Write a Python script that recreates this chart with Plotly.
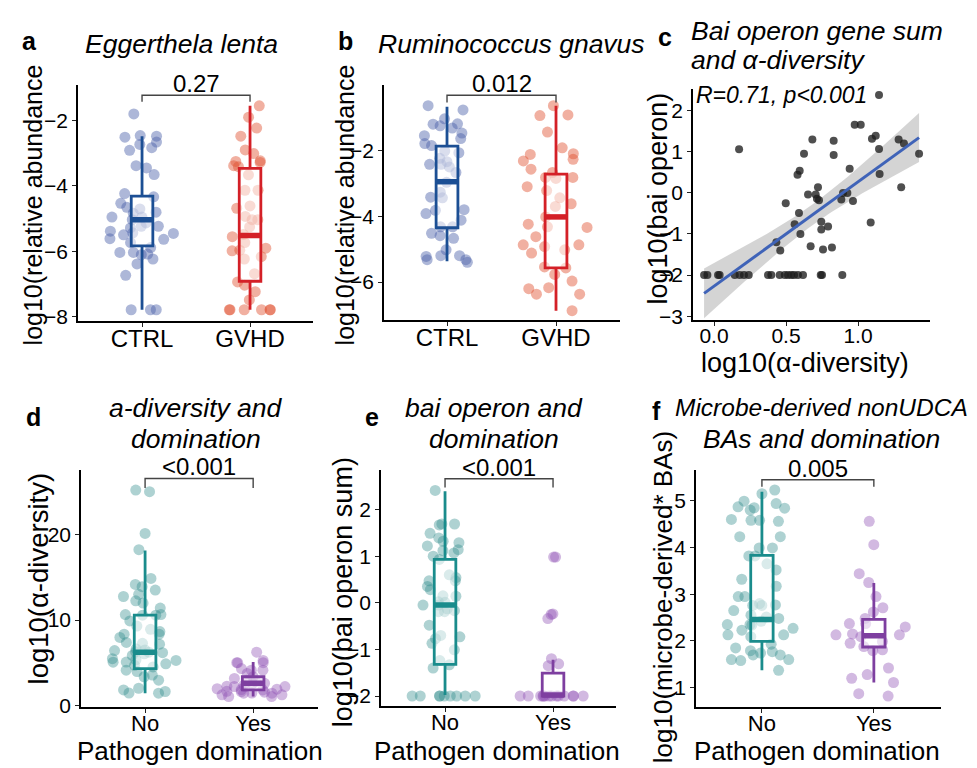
import numpy as np
import plotly.graph_objects as go

W, H = 977, 768
FONT = "Liberation Sans, Arial, sans-serif"

# ---------------- data ----------------
groups_ab = ["CTRL", "GVHD"]
groups_def = ["No", "Yes"]

a_ctrl = [-1.8, -2.73, -2.51, -2.48, -2.46, -2.66, -2.91, -2.83, -3.38, -3.45, -3.65, -4.23, -4.33,
          -4.53, -4.65, -4.7, -4.8, -4.95, -5.03, -4.95, -5.13, -5.23, -5.28, -5.23, -5.45, -5.49,
          -5.63, -5.61, -5.73, -5.43, -5.88, -6.08, -6.1, -6.03, -6.03, -6.23, -6.38, -6.73, -7.78,
          -7.78, -7.78, -5.38, -4.83]
a_gvhd = [-1.55, -1.9, -2.23, -2.48, -2.9, -3.01, -3.28, -3.23, -3.25, -3.38, -3.41, -3.66, -4.13,
          -4.13, -4.68, -4.61, -4.93, -5.03, -5.03, -5.25, -5.48, -5.55, -5.73, -5.98, -5.9, -5.96,
          -6.16, -6.23, -6.68, -6.93, -7.03, -7.23, -7.48, -7.78, -7.78, -7.78, -7.78, -7.78, -7.78]

b_ctrl = [-0.64, -0.77, -1.04, -1.32, -1.2, -1.19, -1.47, -1.64, -1.55, -1.79, -1.85, -2.02, -2.24,
          -2.07, -2.34, -2.42, -2.42, -2.67, -2.97, -3.27, -3.44, -3.42, -3.82, -3.8, -3.92, -4.32,
          -4.12, -4.32, -4.59, -4.67, -4.52, -5.2, -5.22, -5.02, -5.2, -5.32, -5.32, -5.4, -2.5, -1.25]
b_gvhd = [-0.64, -0.92, -0.94, -1.44, -1.92, -2.12, -2.1, -2.32, -2.27, -2.57, -2.67, -2.85, -2.82,
          -2.82, -3.1, -3.22, -3.44, -3.62, -3.7, -4.02, -4.24, -4.34, -4.32, -4.62, -4.87, -4.87,
          -4.92, -5.12, -5.02, -5.54, -5.57, -5.77, -5.97, -6.2, -6.17, -6.37, -6.37, -6.87]

c_alpha = [1.146, 0.977, 1.019, 0.683, 0.831, 1.097, 1.123, 1.282, 1.319, 0.174, 0.625, 0.831, 1.146,
           1.424, 0.942, 0.595, 0.58, 1.15, 1.30, 0.722, 0.653, 0.706, 0.729, 0.715, 0.896, 0.926,
           0.884, 0.965, 0.498, 0.59, 0.56, 0.745, 0.745, 0.792, 1.088, 0.6, 0.433, 0.46, 0.671,
           0.757, 0.819,
           -0.069, -0.046, 0.028, 0.039, 0.144, 0.178, 0.208, 0.241, 0.375, 0.398, 0.456, 0.491,
           0.514, 0.537, 0.556, 0.583, 0.618, 0.741, 0.75, 0.891]
c_bai = [2.38, 1.66, 1.66, 1.3, 1.27, 1.32, 1.39, 1.3, 1.2, 1.06, 0.95, 0.92, 1.07,
         0.95, 0.59, 0.54, 0.44, 0.46, 0.14, 0.14, -0.04, -0.04, -0.18, -0.14, 0.0, 0.0,
         -0.16, -0.2, -0.25, -0.49, -0.76, -0.7, -0.89, -0.82, -0.72, -1.0, -1.2, -1.4, -1.3,
         -1.38, -1.33,
         -2, -2, -2, -2, -2, -2, -2, -2, -2, -2, -2, -2, -2, -2, -2, -2, -2, -2, -2, -2]

d_no = [25.15, 24.96, 20.1, 18.2, 14.85, 14.16, 13.9, 13.5, 13.0, 12.75, 11.98, 12.25, 11.4, 10.65,
        10.57, 10.65, 10.57, 9.9, 9.31, 8.93, 8.66, 8.36, 7.98, 8.36, 7.3, 7.2, 7.4, 6.64, 6.45,
        6.53, 6.07, 5.88, 6.26, 5.38, 5.3, 5.1, 4.54, 4.16, 4.73, 4.0, 3.6, 3.4, 3.0, 1.68, 1.87,
        2.06, 1.49, 5.11, 5.5, 6.2, 6.3, 4.9, 1.5]
d_yes = [6.26, 5.3, 5.04, 5.04, 5.04, 4.16, 4.35, 4.16, 3.0, 3.2, 3.4, 3.78, 2.25, 1.95, 2.25, 2.25,
         2.3, 1.68, 1.49, 1.49, 1.6, 1.87, 1.3, 1.1, 1.1, 1.3, 2.63, 2.63, 1.9, 2.4, 2.0, 1.7, 2.8,
         1.5]

e_no = [2.41, 1.69, 1.69, 1.67, 1.49, 1.39, 1.29, 1.32, 1.22, 1.14, 1.12, 1.07, 0.93, 1.0, 0.6, 0.54,
        0.47, 0.47, 0.35, 0.28, 0.15, 0.14, 0.02, 0.01, -0.05, -0.17, -0.13, -0.19, -0.19, -0.48,
        -0.7, -0.73, -0.87, -0.77, -1.01, -1.33, -1.4, -1.24, -0.05,
        -2, -2, -2, -2, -2, -2, -2, -2, -2]
e_yes = [0.98, 0.98, -0.24, -0.34, -0.25, -1.2, -1.35, -1.31,
         -2, -2, -2, -2, -2, -2, -2, -2, -2, -2, -2, -2, -2, -2]

f_no = [5.15, 5.23, 4.99, 4.94, 4.87, 4.84, 4.85, 4.8, 4.56, 4.58, 4.58, 4.6, 4.23, 4.23, 3.99, 3.99,
        3.82, 3.82, 3.65, 3.52, 3.32, 3.17, 2.95, 2.95, 2.8, 2.77, 2.76, 2.76, 2.65, 2.55, 2.48,
        2.42, 2.51, 2.27, 2.23, 2.35, 2.35, 2.34, 2.13, 2.09, 2.13, 1.93, 1.79, 1.85, 1.74, 1.7,
        1.77, 1.7, 1.6, 1.58, 1.6, 1.37]
f_yes = [4.56, 4.06, 3.44, 3.25, 2.95, 2.71, 2.62, 2.48, 2.3, 2.37, 2.37, 2.15, 1.99, 2.13, 2.13,
         1.95, 2.09, 1.88, 1.79, 1.81, 1.42, 1.28, 1.2, 1.11, 0.82, 0.87]

# box statistics per group: q1, median, q3, lower whisker, upper whisker
a_box = [[-5.83, -5.03, -4.31, -7.78, -2.48], [-6.91, -5.51, -3.46, -7.78, -1.55]]
b_box = [[-4.35, -2.95, -1.87, -5.37, -0.67], [-5.57, -4.02, -2.72, -6.87, -0.64]]
d_box = [[4.35, 6.26, 10.57, 1.49, 18.1], [1.87, 2.63, 3.4, 1.1, 5.11]]
e_box = [[-1.32, -0.05, 0.93, -1.98, 2.39], [-2.0, -1.98, -1.51, -2.0, -1.22]]
f_box = [[1.99, 2.46, 3.83, 1.37, 5.19], [1.87, 2.11, 2.46, 1.11, 3.24]]

p_values = ["0.27", "0.012", "<0.001", "<0.001", "0.005"]
bracket_levels = [(-1.23, -1.43), (-0.32, -0.54), (26.5, 25.4), (2.66, 2.47), (5.45, 5.30)]
corr_label = "R=0.71, p<0.001"

# ---------------- styles ----------------
BLUE, RED = "#1C4F94", "#D42027"
TEAL, PURPLE = "#1A8C8C", "#7E3FA0"
PT_BLUE, PT_RED = "rgba(74,95,168,0.45)", "rgba(224,80,46,0.45)"
PT_TEAL, PT_PURPLE = "rgba(42,138,138,0.38)", "rgba(142,79,181,0.40)"

fig = go.Figure()


def dom_x(x0, x1):
    return [x0 / W, x1 / W]


def dom_y(top, bot):
    return [1 - bot / H, 1 - top / H]


def axis_base(size=21):
    return dict(showline=True, linecolor="black", linewidth=1.5, ticks="outside", ticklen=4,
                tickwidth=1.4, tickcolor="#222", showgrid=False, zeroline=False,
                tickfont=dict(size=size, color="black", family=FONT), fixedrange=True)


# panel layout: key, x domain px, y domain px (top, bottom), x range, y range, y ticks
panels = {
    "a": dict(ax="", xd=(70, 305), yd=(78, 317), xr=(-0.593, 1.583), yr=(-8.12, -0.915),
              yt=[-8, -6, -4, -2], cats=groups_ab),
    "b": dict(ax="2", xd=(376, 612), yd=(78, 316), xr=(-0.578, 1.587), yr=(-7.15, -0.01),
              yt=[-6, -4, -2], cats=groups_ab),
    "c": dict(ax="3", xd=(685, 922), yd=(82, 316), xr=(-0.146, 1.5), yr=(-3.09, 2.53),
              yt=[-3, -2, -1, 0, 1, 2], cats=None),
    "d": dict(ax="4", xd=(73, 310), yd=(468, 708), xr=(-0.593, 1.6), yr=(-0.1, 27.5),
              yt=[0, 10, 20], cats=groups_def),
    "e": dict(ax="5", xd=(373, 608), yd=(468, 707), xr=(-0.593, 1.583), yr=(-2.21, 2.85),
              yt=[-2, -1, 0, 1, 2], cats=groups_def),
    "f": dict(ax="6", xd=(688, 933), yd=(468, 708), xr=(-0.589, 1.6), yr=(0.59, 5.66),
              yt=[1, 2, 3, 4, 5], cats=groups_def),
}

layout_axes = {}
for key, p in panels.items():
    if p["cats"] is None:
        xsize = 21
    elif p["cats"] == groups_ab:
        xsize = 24
    else:
        xsize = 22
    xa = axis_base(xsize)
    xa.update(domain=dom_x(*p["xd"]), range=list(p["xr"]), anchor="y" + p["ax"],
              ticklabelstandoff=-8)
    if p["cats"]:
        xa.update(tickvals=[0, 1], ticktext=p["cats"], tickmode="array")
    else:
        xa.update(tickvals=[0, 0.5, 1.0], ticktext=["0.0", "0.5", "1.0"], tickmode="array")
    ya = axis_base(21)
    ya.update(domain=dom_y(*p["yd"]), range=list(p["yr"]), anchor="x" + p["ax"],
              tickvals=p["yt"], tickmode="array")
    layout_axes["xaxis" + p["ax"]] = xa
    layout_axes["yaxis" + p["ax"]] = ya


def add_box_panel(key, groups_vals, stats, box_colors, pt_colors, pval, bracket):
    ax = panels[key]["ax"]
    xr, yr = "x" + ax, "y" + ax
    for pos, (vals, st, bc, pc) in enumerate(zip(groups_vals, stats, box_colors, pt_colors)):
        # jittered points
        fig.add_trace(go.Box(x=[pos] * len(vals), y=vals, xaxis=xr, yaxis=yr, boxpoints="all",
                             jitter=1, pointpos=0, width=0.72, fillcolor="rgba(0,0,0,0)",
                             line=dict(width=0, color="rgba(0,0,0,0)"),
                             marker=dict(size=11, color=pc, line=dict(width=0)),
                             showlegend=False, hoverinfo="y"))
        # box from summary statistics
        fig.add_trace(go.Box(x=[pos], q1=[st[0]], median=[st[1]], q3=[st[2]],
                             lowerfence=[st[3]], upperfence=[st[4]], xaxis=xr, yaxis=yr,
                             width=0.2, whiskerwidth=0, boxpoints=False,
                             fillcolor="rgba(255,255,255,0.55)", line=dict(color=bc, width=2.8),
                             showlegend=False, hoverinfo="skip"))
        # thick median bar
        fig.add_trace(go.Scatter(x=[pos - 0.1, pos + 0.1], y=[st[1], st[1]], xaxis=xr, yaxis=yr,
                                 mode="lines", line=dict(color=bc, width=5.5),
                                 showlegend=False, hoverinfo="skip"))
    hi, lo = bracket
    fig.add_trace(go.Scatter(x=[0, 0, 1, 1], y=[lo, hi, hi, lo], xaxis=xr, yaxis=yr,
                             mode="lines", line=dict(color="#444", width=1.4),
                             showlegend=False, hoverinfo="skip"))
    fig.add_annotation(x=0.5, y=hi, xref=xr, yref=yr, text=pval, showarrow=False,
                       yanchor="bottom", yshift=-4, font=dict(size=24, color="black", family=FONT))


add_box_panel("a", [a_ctrl, a_gvhd], a_box, [BLUE, RED], [PT_BLUE, PT_RED], p_values[0], bracket_levels[0])
add_box_panel("b", [b_ctrl, b_gvhd], b_box, [BLUE, RED], [PT_BLUE, PT_RED], p_values[1], bracket_levels[1])
add_box_panel("d", [d_no, d_yes], d_box, [TEAL, PURPLE], [PT_TEAL, PT_PURPLE], p_values[2], bracket_levels[2])
add_box_panel("e", [e_no, e_yes], e_box, [TEAL, PURPLE], [PT_TEAL, PT_PURPLE], p_values[3], bracket_levels[3])
add_box_panel("f", [f_no, f_yes], f_box, [TEAL, PURPLE], [PT_TEAL, PT_PURPLE], p_values[4], bracket_levels[4])

# ---- panel c: scatter with linear fit and 95% CI ----
cx = np.array(c_alpha, dtype=float)
cy = np.array(c_bai, dtype=float)
n = len(cx)
slope, intercept = np.polyfit(cx, cy, 1)
resid = cy - (intercept + slope * cx)
s = np.sqrt(np.sum(resid ** 2) / (n - 2))
sxx = np.sum((cx - cx.mean()) ** 2)
xs = np.linspace(cx.min(), cx.max(), 80)
fit = intercept + slope * xs
se = s * np.sqrt(1.0 / n + (xs - cx.mean()) ** 2 / sxx)
tq = 2.0
upper, lower = fit + tq * se, fit - tq * se
fig.add_trace(go.Scatter(x=np.concatenate([xs, xs[::-1]]), y=np.concatenate([upper, lower[::-1]]),
                         xaxis="x3", yaxis="y3", fill="toself", fillcolor="rgba(160,160,160,0.45)",
                         line=dict(width=0), mode="lines", showlegend=False, hoverinfo="skip"))
fig.add_trace(go.Scatter(x=cx, y=cy, xaxis="x3", yaxis="y3", mode="markers",
                         marker=dict(size=8, color="rgba(30,30,30,0.78)", line=dict(width=0)),
                         showlegend=False))
fig.add_trace(go.Scatter(x=xs, y=fit, xaxis="x3", yaxis="y3", mode="lines",
                         line=dict(color="#3F63B8", width=3), showlegend=False, hoverinfo="skip"))


# ---- text: letters, titles, axis titles ----
def pann(text, x, y, size, xanchor="center", angle=0, bold=False, italic=False):
    if italic:
        text = "<i>" + text + "</i>"
    if bold:
        text = "<b>" + text + "</b>"
    fig.add_annotation(x=x / W, y=1 - y / H, xref="paper", yref="paper", text=text,
                       showarrow=False, xanchor=xanchor, yanchor="middle", textangle=angle,
                       font=dict(size=size, color="black", family=FONT))


# panel letters
for lt, (x, y) in {"a": (21, 33), "b": (337, 33), "c": (657, 29), "d": (25, 414),
                   "e": (364, 414), "f": (648, 408)}.items():
    pann(lt, x, y, 25, bold=True)

# panel titles
TS = 26.5
pann("Eggerthela lenta", 173, 36, TS, italic=True)
pann("Ruminococcus gnavus", 503, 36, TS, italic=True)
pann("Bai operon gene sum", 681, 23, TS, xanchor="left", italic=True)
pann("and α-diversity", 681, 53, TS, xanchor="left", italic=True)
pann("a-diversity and", 188, 405, TS, italic=True)
pann("domination", 188, 437, TS, italic=True)
pann("bai operon and", 486, 405, TS, italic=True)
pann("domination", 486, 437, TS, italic=True)
pann("Microbe-derived nonUDCA", 813, 405, 24.5, italic=True)
pann("BAs and domination", 813, 437, TS, italic=True)
pann(corr_label, 686, 88, 23, xanchor="left", italic=True)

# axis titles
pann("log10(relative abundance", 25, 200, 25, angle=-90)
pann("log10(relative abundance", 337, 200, 25, angle=-90)
pann("log10(bai operon)", 650, 193, 27, angle=-90)
pann("log10(α-diversity)", 797, 360, 27)
pann("log10(α-diversity)", 30, 578, 27.5, angle=-90)
pann("log10(bai operon sum)", 335, 592, 27, angle=-90)
pann("log10(microbe-derived* BAs)", 655, 597, 26, angle=-90)
pann("Pathogen domination", 192, 753, 26)
pann("Pathogen domination", 489, 753, 26)
pann("Pathogen domination", 809, 753, 26)

fig.update_layout(width=W, height=H, margin=dict(l=0, r=0, t=0, b=0),
                  paper_bgcolor="white", plot_bgcolor="white", boxmode="overlay",
                  font=dict(family=FONT, color="black"), showlegend=False, **layout_axes)

fig.write_html("out.html")
